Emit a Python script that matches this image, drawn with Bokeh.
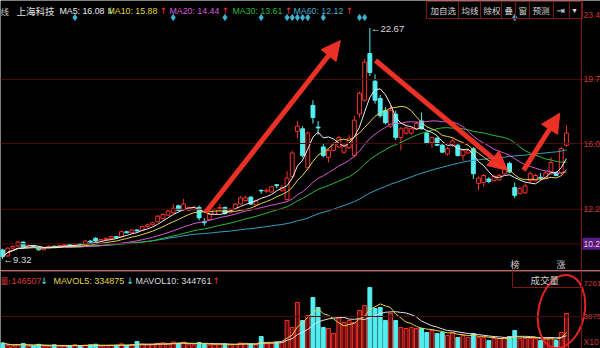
import numpy as np
import pandas as pd
from bokeh.plotting import figure
from bokeh.layouts import column
from bokeh.models import Range1d, Span, Label, Arrow, NormalHead
from bokeh.embed import file_html
from bokeh.resources import INLINE

# ---------------- daily bars, 上海科技 ----------------
opens = [9.85, 9.50, 9.95, 10.08, 10.30, 10.00, 10.10, 10.02, 9.86, 9.96,
         10.06, 10.00, 10.10, 10.16, 10.10, 10.20, 10.14, 10.36, 10.52, 10.36,
         10.45, 10.52, 10.62, 10.60, 10.90, 10.84, 11.00, 10.97, 11.20, 11.30,
         11.48, 11.66, 11.86, 12.00, 12.40, 12.16, 12.14, 12.18, 12.30, 11.48,
         11.60, 11.90, 12.24, 12.30, 12.00, 12.24, 12.50, 12.70, 12.90, 12.45,
         13.30, 13.24, 13.20, 13.62, 13.30, 12.76, 14.10, 16.70, 16.85, 14.60,
         18.20, 16.95, 15.80, 15.20, 15.60, 15.80, 15.50, 15.75, 15.30, 17.70,
         18.50, 21.20, 19.60, 18.60, 17.90, 17.00, 17.70, 16.35, 16.60, 16.60,
         16.85, 17.30, 16.60, 16.05, 16.30, 15.90, 15.40, 15.90, 15.90, 15.30,
         15.45, 15.70, 13.70, 13.75, 13.95, 13.85, 13.90, 14.25, 14.85, 13.45,
         13.10, 13.15, 13.85, 13.85, 14.05, 14.00, 14.25, 14.30, 14.30, 15.90]
highs = [9.92, 10.00, 10.12, 10.38, 10.34, 10.16, 10.14, 10.06, 10.00, 10.10,
         10.10, 10.14, 10.20, 10.20, 10.24, 10.24, 10.40, 10.42, 10.58, 10.48,
         10.56, 10.66, 10.66, 10.96, 10.96, 11.04, 11.06, 11.26, 11.36, 11.48,
         11.86, 11.96, 12.16, 12.50, 12.46, 12.80, 12.36, 12.40, 12.42, 11.70,
         11.96, 12.24, 12.50, 12.36, 12.26, 12.56, 12.96, 13.00, 12.96, 12.76,
         13.32, 13.40, 13.56, 13.66, 13.60, 14.40, 15.60, 17.30, 17.00, 16.70,
         18.50, 17.30, 16.00, 15.70, 16.10, 16.45, 15.95, 16.50, 17.60, 19.00,
         20.90, 22.67, 20.00, 18.80, 18.10, 18.20, 17.90, 16.95, 17.00, 16.95,
         17.25, 17.80, 16.70, 16.40, 16.40, 16.00, 15.80, 16.30, 16.00, 15.70,
         15.70, 15.80, 14.10, 14.25, 14.05, 14.20, 14.25, 14.65, 14.95, 13.75,
         13.50, 13.70, 14.40, 14.25, 14.30, 14.40, 15.20, 14.40, 15.80, 17.05]
lows = [9.32, 9.45, 9.90, 10.02, 9.96, 9.95, 10.00, 9.80, 9.82, 9.92,
        9.96, 9.98, 10.06, 10.06, 10.06, 10.10, 10.12, 10.26, 10.32, 10.32,
        10.42, 10.48, 10.50, 10.56, 10.80, 10.80, 10.90, 10.94, 11.14, 11.26,
        11.44, 11.60, 11.82, 11.96, 12.10, 12.12, 12.10, 12.12, 11.55, 11.25,
        11.55, 11.86, 12.10, 11.90, 11.96, 12.20, 12.46, 12.66, 12.44, 12.40,
        13.10, 13.14, 13.16, 13.40, 13.20, 12.70, 14.00, 16.30, 15.20, 14.50,
        17.15, 16.50, 15.20, 14.90, 15.55, 15.75, 15.40, 15.70, 15.20, 17.50,
        18.40, 19.90, 18.30, 17.50, 17.10, 16.90, 16.20, 15.60, 16.50, 16.50,
        16.80, 16.80, 15.95, 15.75, 15.85, 15.45, 15.30, 15.80, 15.25, 15.00,
        15.40, 13.95, 13.30, 13.50, 13.70, 13.80, 13.85, 14.20, 14.30, 12.85,
        13.05, 13.10, 13.70, 13.80, 13.90, 13.95, 14.20, 14.10, 14.20, 15.80]
closes = [9.45, 9.95, 10.05, 10.30, 10.00, 10.10, 10.04, 9.86, 9.96, 10.06,
          10.00, 10.10, 10.16, 10.10, 10.20, 10.14, 10.36, 10.30, 10.36, 10.45,
          10.52, 10.62, 10.55, 10.90, 10.84, 11.00, 10.95, 11.20, 11.30, 11.42,
          11.80, 11.90, 12.10, 12.26, 12.14, 12.50, 12.30, 12.32, 11.70, 11.42,
          11.90, 12.20, 12.30, 11.95, 12.20, 12.50, 12.86, 12.86, 12.50, 12.70,
          13.26, 13.30, 13.50, 13.56, 13.45, 14.00, 15.45, 17.00, 15.30, 16.60,
          17.50, 16.90, 15.30, 15.60, 16.00, 16.35, 15.90, 16.30, 17.35, 18.90,
          20.70, 20.10, 18.50, 17.60, 17.20, 17.90, 16.35, 16.85, 16.90, 16.85,
          17.15, 16.85, 16.00, 16.35, 15.90, 15.50, 15.70, 16.15, 15.30, 15.60,
          15.60, 14.25, 14.00, 14.15, 13.80, 14.10, 14.15, 14.55, 14.35, 13.00,
          13.40, 13.55, 14.25, 14.15, 14.00, 14.30, 14.90, 14.15, 15.70, 16.60]
volumes = [800, 520, 460, 620, 740, 420, 480, 650, 400, 460,
           600, 430, 470, 520, 620, 470, 560, 600, 660, 420,
           500, 540, 560, 700, 520, 600, 960, 650, 620, 580,
           760, 820, 700, 900, 760, 880, 650, 600, 850, 700,
           560, 620, 650, 700, 600, 640, 800, 760, 700, 620,
           1500, 700, 800, 900, 900, 3240, 2480, 5200, 3240, 3780,
           5740, 4650, 2480, 2370, 1830, 3570, 3020, 3240, 3020, 4330,
           4870, 6830, 4540, 4650, 3240, 4000, 3240, 2480, 2370, 2480,
           2370, 2370, 1940, 2150, 1830, 1940, 1610, 1940, 1390, 1610,
           1390, 1830, 1390, 1390, 1070, 1280, 1280, 1390, 1500, 2150,
           1280, 1280, 1280, 1280, 1070, 1280, 1390, 1070, 1940, 4000]

ma_windows = [60, 30, 20, 10, 5]
ma_colors = ["#3a9fc0", "#2cb83a", "#d85ad8", "#e2d44a", "#ececec"]
mavol_windows = [10, 5]
mavol_colors = ["#e0e0e0", "#e2d44a"]

header_items = [("MA5: 16.08", "#ececec", "↓"), ("MA10: 15.88", "#e2d44a", "↑"),
                ("MA20: 14.44", "#d85ad8", "↑"), ("MA30: 13.61", "#2cb83a", "↑"),
                ("MA60: 12.12", "#4aa8cc", "↑")]
vol_header = ("146507", "↓", "MAVOL5: 334875", "↓", "MAVOL10: 344761", "↑")
price_ticks = [23.4, 19.7, 16.0, 12.2, 10.2]
grid_prices = [19.7, 16.0, 12.2, 10.2]
volume_ticks = ["7261", "3675"]
volume_grid = [3675]
signal_days = [14, 33, 43, 50, 55, 56, 57, 58, 59, 62, 69, 70, 99]
toolbar_items = ["加自选", "均线", "除权", "叠", "窗", "预测"]
# trend arrows: (day, price) -> (day, price)
trend_arrows = [(39.2, 12.00, 65.3, 21.95), (72.1, 20.80, 97.6, 14.45),
                (100.7, 14.45, 107.7, 17.75)]

# ---------------- page geometry ----------------
W, MAIN_H, VOL_H = 600, 270, 78
X0, STEP = 2.0, 5.174            # first bar centre and bar pitch, px
PX_PER_YUAN = 17.3
PRICE_TOP = 24.266
VOL_PER_PX = 108.7
VOL_TOP = 8674.0

CJK = "Noto Sans CJK SC"
LAT = "Liberation Sans"
SYM = "DejaVu Sans"
RED = "#f5302c"
CYAN = "#52eef0"
DARK = "#7c1818"
GRIDC = "#4a0e0e"
AXC = "#c63a3a"


def xd(px):
    return (px - X0) / STEP


def yp(py):
    return PRICE_TOP - py / PX_PER_YUAN


def yv(py):
    return VOL_TOP - (py - MAIN_H) * VOL_PER_PX


def make_fig(h, y0, y1):
    f = figure(width=W, height=h, x_range=xr, y_range=Range1d(y0, y1),
               x_axis_type=None, y_axis_type=None, output_backend="svg",
               toolbar_location=None, min_border=0,
               background_fill_color="#000000", border_fill_color="#000000")
    f.outline_line_color = None
    f.grid.visible = False
    return f


def tag(f, px, y, text, color, size="8.6px", font=LAT, align="left"):
    f.add_layout(Label(x=xd(px), y=y, text=text, text_color=color,
                       text_font=font, text_font_size=size,
                       text_baseline="middle", text_align=align))


xr = Range1d(xd(0), xd(W))
n = len(closes)
idx = np.arange(n)
o, h, l, c, v = map(np.array, (opens, highs, lows, closes, volumes))
rise = c >= o
edge = np.where(rise, RED, CYAN).tolist()
fill = np.where(rise, "#000000", CYAN).tolist()

# ---------------- price panel ----------------
main = make_fig(MAIN_H, yp(MAIN_H), PRICE_TOP)
for gp in grid_prices:
    main.add_layout(Span(location=gp, dimension="width", line_color=GRIDC, line_width=1))
main.add_layout(Span(location=xd(581), dimension="height", line_color=DARK, line_width=1))

main.segment(idx, h, idx, l, line_color=edge, line_width=1)
main.vbar(x=idx, width=0.75, top=np.maximum(o, c), bottom=np.minimum(o, c),
          fill_color=fill, line_color=edge, line_width=1)

close_s = pd.Series(c)
for w, col in zip(ma_windows, ma_colors):
    main.line(idx, close_s.rolling(w, min_periods=1).mean(), line_color=col, line_width=1)

for xs, ys, xe, ye in trend_arrows:
    main.add_layout(Arrow(x_start=xs, y_start=ys, x_end=xe, y_end=ye,
                          line_color="#ff3428", line_width=5, line_alpha=0.92,
                          end=NormalHead(size=19, fill_color="#ff3428", fill_alpha=0.92,
                                         line_color="#ff3428", line_alpha=0.92)))

# extreme price marks
i_hi, i_lo = int(np.argmax(h)), int(np.argmin(l))
main.add_layout(Label(x=i_hi + 0.2, y=h[i_hi], text="←%.2f" % h[i_hi], text_color="#d8d8d8",
                      text_font=LAT, text_font_size="9.5px", text_baseline="middle"))
main.add_layout(Label(x=i_lo + 0.2, y=l[i_lo], text="←%.2f" % l[i_lo], text_color="#d8d8d8",
                      text_font=LAT, text_font_size="9.5px", text_baseline="middle"))

# signal markers under the title row
main.scatter(signal_days, [yp(17)] * len(signal_days), marker="diamond", size=6,
             fill_color="#3cb4d4", line_color="#3cb4d4")

# title row
hy = yp(10)
tag(main, 0, hy, "线", "#c8c8c8", "8.5px", CJK)
tag(main, 16, hy, "上海科技", "#e4e4e4", "9.5px", CJK)
hx = [59, 107, 169, 232, 293]
for px, (txt, col, arr) in zip(hx, header_items):
    tag(main, px, hy, txt, col, "8.8px")
    tw = len(txt) * 4.8 - 0.5
    tag(main, px + tw, hy, arr, CYAN if arr == "↓" else RED, "9px", SYM)

# toolbar box
main.quad(left=xd(426), right=xd(582), top=yp(1), bottom=yp(18),
          fill_color=None, line_color=DARK, line_width=1)
seps = [458, 480, 501, 515, 529, 553, 569]
main.segment(x0=[xd(s) for s in seps], y0=[yp(1)] * len(seps),
             x1=[xd(s) for s in seps], y1=[yp(18)] * len(seps), line_color=DARK, line_width=1)
tx = [430, 461, 483, 504, 518, 532]
for px, t in zip(tx, toolbar_items):
    tag(main, px, yp(9.5), t, "#d4d4d4", "8.5px", CJK)
tag(main, 556, yp(9.5), "⇥", "#e0e0e0", "10px", SYM)
tag(main, 572, yp(10), "▾", "#e0e0e0", "8px", SYM)

# right price scale
for t in price_ticks:
    if t == 10.2:
        main.quad(left=xd(582), right=xd(601), top=t + 6 / PX_PER_YUAN,
                  bottom=t - 6 / PX_PER_YUAN, fill_color="#5a1e8c", line_color=None)
        tag(main, 583, t, "%.1f" % t, "#f0c8f0", "8.5px")
    else:
        tag(main, 583, t, "%.1f" % t, AXC, "8.5px")

# side tabs
tag(main, 510, yp(263.5), "榜", "#d0d0d0", "9px", CJK)
tag(main, 556, yp(263.5), "涨", "#d0d0d0", "9px", CJK)
main.segment(x0=[xd(512)], y0=[yp(259)], x1=[xd(512)], y1=[yp(MAIN_H)], line_color=DARK)

# ---------------- volume panel ----------------
vol = make_fig(VOL_H, yv(MAIN_H + VOL_H), VOL_TOP)
vol.add_layout(Span(location=yv(271), dimension="width", line_color=DARK, line_width=1))
for g in volume_grid:
    vol.add_layout(Span(location=g, dimension="width", line_color=GRIDC, line_width=1))
vol.add_layout(Span(location=xd(581), dimension="height", line_color=DARK, line_width=1))

vfill = np.where(rise, "#5c0d0d", CYAN).tolist()
vol.vbar(x=idx, width=0.75, top=v, bottom=0, fill_color=vfill, line_color=edge, line_width=1)
vol_s = pd.Series(v)
for w, col in zip(mavol_windows, mavol_colors):
    vol.line(idx, vol_s.rolling(w, min_periods=1).mean(), line_color=col, line_width=1)

vy = yv(280)
tag(vol, 0, vy, "量:", "#d83a3a", "8px", CJK)
tag(vol, 11, vy, vol_header[0], "#d83a3a", "9px")
tag(vol, 40, vy, vol_header[1], CYAN, "9px", SYM)
tag(vol, 53, vy, vol_header[2], "#e2d44a", "9px")
tag(vol, 126, vy, vol_header[3], CYAN, "9px", SYM)
tag(vol, 135, vy, vol_header[4], "#dcdcdc", "9px")
tag(vol, 212, vy, vol_header[5], RED, "9px", SYM)

# indicator selector
vol.segment(x0=[xd(512), xd(512)], y0=[VOL_TOP, yv(287)], x1=[xd(512), xd(581)],
            y1=[yv(287), yv(287)], line_color=DARK)
tag(vol, 530, yv(279), "成交量", "#cfcfcf", "9.5px", CJK)

for t, py in zip(volume_ticks, [283, 316]):
    tag(vol, 583, yv(py), t, AXC, "8px")
tag(vol, 583, yv(341), "X10", AXC, "8.5px")

vol.ellipse(x=xd(561), y=yv(311), width=46, height=74, angle=-0.2,
            width_units="screen", height_units="screen",
            fill_color=None, line_color="#e82222", line_width=2)

page = column(main, vol, spacing=0)
open("out.html", "w").write(file_html(page, INLINE))
